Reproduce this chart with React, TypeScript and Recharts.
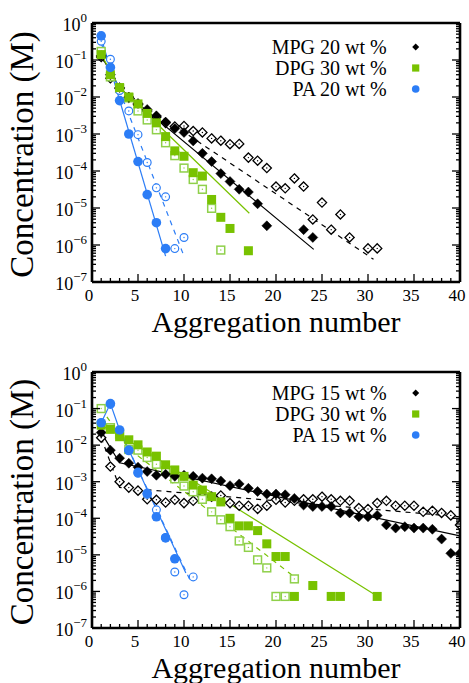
import React from "react";
import { ComposedChart, Scatter, XAxis, YAxis, Legend, Label } from "recharts";

type Pt = [number, number];

const FONT = "'Liberation Serif', 'Times New Roman', serif";
const BLACK = "#000000";
const GREEN = "#78c200";
const GREEN_OPEN = "#8fd04a";
const BLUE = "#2c7df6";

// axis ticks
const xTicks = Array.from({ length: 41 }, (_, i) => i);
const decades = [-7, -6, -5, -4, -3, -2, -1];
const yTicks = [...decades.flatMap((e) => [1, 2, 3, 4, 5, 6, 7, 8, 9].map((k) => k * Math.pow(10, e))), 1];

// ---------- upper panel (20 wt %) ----------
const topMpgFilled: Pt[] = [
  [1, 0.13], [2, 0.04], [3, 0.018], [4, 0.01], [5, 6.7e-3], [6, 4.6e-3], [7, 3.1e-3],
  [8, 2.1e-3], [9, 1.4e-3], [10, 1.1e-3], [11, 6.5e-4], [12, 3e-4], [13, 1.8e-4],
  [14, 8.5e-5], [15, 5.2e-5], [16, 3.2e-5], [17, 2.7e-5], [18, 1.3e-5], [19, 3.3e-6],
  [23, 2.6e-6], [24, 1.6e-6],
];
const topMpgOpen: Pt[] = [
  [1, 0.12], [2, 0.032], [3, 0.017], [4, 0.0095], [5, 6.2e-3], [6, 4.2e-3], [7, 2.9e-3],
  [8, 2e-3], [9, 1.6e-3], [10, 1.65e-3], [11, 1.2e-3], [12, 1.1e-3], [13, 7.6e-4],
  [14, 6.6e-4], [15, 5.3e-4], [16, 5.4e-4], [17, 2.3e-4], [18, 1.9e-4], [19, 1.2e-4],
  [20, 3.8e-5], [21, 3.4e-5], [22, 6.3e-5], [23, 3.8e-5], [24, 4.9e-6], [25, 1.4e-5],
  [26, 2.6e-6], [27, 6.7e-6], [28, 1.6e-6], [30, 8.1e-7], [31, 8.1e-7],
];
const topDpgFilled: Pt[] = [
  [1, 0.14], [2, 0.04], [3, 0.018], [4, 0.01], [5, 6.5e-3], [6, 3.6e-3], [7, 2e-3],
  [8, 8.5e-4], [9, 3.5e-4], [10, 2.5e-4], [11, 9e-5], [12, 7.3e-5], [13, 1.7e-5],
  [14, 5.6e-6], [15, 2.8e-6], [17, 7e-7],
];
const topDpgOpen: Pt[] = [
  [1, 0.17], [2, 0.035], [3, 0.017], [4, 0.0095], [5, 4.2e-3], [6, 2.4e-3], [7, 1.3e-3],
  [8, 5.8e-4], [9, 2.6e-4], [10, 1.2e-4], [11, 5.9e-5], [12, 3.2e-5], [13, 9.8e-6], [14, 7.3e-7],
];
const topPaFilled: Pt[] = [
  [1, 0.45], [2, 0.063], [3, 0.008], [4, 1e-3], [5, 1.8e-4], [6, 2.3e-5], [7, 4e-6], [8, 8e-7],
];
const topPaOpen: Pt[] = [
  [1, 0.32], [2, 0.105], [3, 0.015], [4, 4.2e-3], [5, 9.6e-4], [6, 1.7e-4], [7, 3.5e-5],
  [8, 2e-5], [9, 8e-7], [10, 1.6e-6],
];
const topMpgFit: Pt[] = [[1, 0.13], [3, 0.0174], [24.1, 7.6e-7]];
const topMpgOpenFit: Pt[] = [[1, 0.12], [3, 0.0166], [30.6, 4.1e-7]];
const topDpgFit: Pt[] = [[1, 0.14], [3, 0.018], [17.1, 7.2e-6]];
const topPaFit: Pt[] = [[0.8, 0.59], [8.0, 5e-7]];
const topPaOpenFit: Pt[] = [[1, 0.28], [10, 5e-7]];
const topLegend = ["MPG 20 wt %", "DPG 30 wt %", "PA 20 wt %"];

// ---------- lower panel (15 wt %) ----------
const botMpgFilled: Pt[] = [
  [1, 0.022], [2, 7.3e-3], [3, 4.4e-3], [4, 3.2e-3], [5, 2.5e-3], [6, 1.9e-3], [7, 1.5e-3],
  [8, 1.6e-3], [9, 1.4e-3], [10, 1.5e-3], [11, 1.4e-3], [12, 1.25e-3], [13, 1.2e-3],
  [14, 1.05e-3], [15, 7.8e-4], [16, 8.7e-4], [17, 6.6e-4], [18, 5.4e-4], [19, 4.6e-4],
  [20, 4.6e-4], [21, 4.4e-4], [22, 3.5e-4], [23, 2.3e-4], [24, 2.1e-4], [25, 2.1e-4],
  [26, 2.1e-4], [27, 1.4e-4], [28, 1.4e-4], [29, 1.1e-4], [30, 1.1e-4], [31, 1.2e-4],
  [32, 6.6e-5], [33, 5.4e-5], [34, 5.9e-5], [35, 5.4e-5], [36, 5.4e-5], [37, 5e-5],
  [38, 2.7e-5], [39, 1.1e-5], [40, 1.1e-5],
];
const botMpgOpen: Pt[] = [
  [1, 0.016], [2, 2.6e-3], [3, 1e-3], [4, 6.9e-4], [5, 5.7e-4], [6, 3.3e-4], [7, 3.2e-4],
  [8, 2.7e-4], [9, 3.2e-4], [10, 2.6e-4], [11, 3e-4], [12, 3.9e-4], [13, 3.9e-4],
  [14, 4.2e-4], [15, 2.6e-4], [16, 2.2e-4], [17, 2.2e-4], [18, 1.8e-4], [19, 2.2e-4],
  [20, 3.2e-4], [21, 2.7e-4], [22, 3e-4], [23, 3.3e-4], [24, 3.3e-4], [25, 3.9e-4],
  [26, 3.3e-4], [27, 3e-4], [28, 3e-4], [29, 1.9e-4], [30, 1.8e-4], [31, 2.6e-4],
  [32, 3e-4], [33, 2.2e-4], [34, 2.2e-4], [35, 2.2e-4], [36, 1.5e-4], [37, 1.6e-4],
  [38, 1.4e-4], [39, 1.2e-4], [40, 6.6e-5],
];
const botDpgFilled: Pt[] = [
  [1, 0.035], [2, 0.027], [3, 0.017], [4, 0.014], [5, 0.0102], [6, 6.5e-3], [7, 5e-3],
  [8, 2.9e-3], [9, 2.1e-3], [10, 1.4e-3], [11, 8.1e-4], [12, 5.9e-4], [13, 3.9e-4],
  [14, 2.8e-4], [15, 1e-4], [16, 6.2e-5], [17, 6.2e-5], [18, 4.6e-5], [19, 2e-5],
  [20, 9e-6], [21, 9e-6], [22, 7.3e-7], [24, 1.45e-6], [26, 7.3e-7], [27, 7.3e-7], [31, 7.3e-7],
];
const botDpgOpen: Pt[] = [
  [1, 0.1], [2, 0.03], [3, 0.02], [4, 7.6e-3], [5, 7.3e-3], [6, 4.6e-3], [7, 3e-3],
  [8, 2e-3], [9, 1.2e-3], [10, 7.6e-4], [11, 5.3e-4], [12, 3.3e-4], [13, 1.5e-4],
  [14, 9.1e-5], [15, 5.9e-5], [16, 2.4e-5], [17, 1.6e-5], [18, 7.3e-6], [19, 4.4e-6],
  [20, 7.3e-7], [21, 7.3e-7], [22, 2.2e-6],
];
const botPaFilled: Pt[] = [
  [1, 0.041], [2, 0.137], [3, 0.026], [4, 7.3e-3], [5, 1.8e-3], [6, 4.8e-4], [7, 1.1e-4],
  [8, 2.9e-5], [9, 7.8e-6],
];
const botPaOpen: Pt[] = [
  [1, 0.04], [2, 0.13], [3, 0.025], [4, 7e-3], [5, 1.7e-3], [6, 4.5e-4], [7, 1.7e-4],
  [8, 3e-5], [9, 3.4e-6], [10, 8.1e-7], [11, 2.5e-6],
];
const botMpgFit: Pt[] = [[1, 0.022], [3, 3.3e-3], [40, 3.3e-5]];
const botMpgOpenFit: Pt[] = [[1, 0.016], [3, 7e-4], [40, 1.1e-4]];
const botDpgFit: Pt[] = [[1, 0.035], [3, 0.019], [30.8, 8e-7]];
const botDpgOpenFit: Pt[] = [[1, 0.1], [4, 8e-3], [22, 2.5e-6]];
const botPaFit: Pt[] = [[1, 0.041], [2, 0.137], [3, 0.026], [10.2, 3.2e-6]];
const botPaOpenFit: Pt[] = [[3, 0.026], [10.8, 1.7e-6]];
const botLegend = ["MPG 15 wt %", "DPG 30 wt %", "PA 15 wt %"];

type Kind = "diamond" | "square" | "circle";
type Series = { data: Pt[]; kind: Kind; open: boolean; color: string };
type Fit = { data: Pt[]; color: string; dashed: boolean };

const toPts = (arr: Pt[]) => arr.map(([x, y]) => ({ x, y }));

function isDecade(v: number) {
  const l = Math.log10(v);
  return Math.abs(l - Math.round(l)) < 1e-6;
}

function Marker({ cx, cy, kind, open, color }: { cx: number; cy: number; kind: Kind; open: boolean; color: string }) {
  if (cx == null || cy == null) return <g />;
  const dot = open ? <circle cx={cx} cy={cy} r={0.7} fill={color} /> : null;
  if (kind === "diamond") {
    const h = open ? 4.6 : 5;
    const d = `M${cx},${cy - h}L${cx + h},${cy}L${cx},${cy + h}L${cx - h},${cy}Z`;
    return (
      <g>
        <path d={d} fill={open ? "#fff" : color} stroke={color} strokeWidth={open ? 1.3 : 0.5} />
        {dot}
      </g>
    );
  }
  if (kind === "square") {
    const h = open ? 3.9 : 4.5;
    return (
      <g>
        <rect x={cx - h} y={cy - h} width={2 * h} height={2 * h} fill={open ? "#fff" : color} stroke={color} strokeWidth={open ? 1.5 : 0} />
        {dot}
      </g>
    );
  }
  return (
    <g>
      <circle cx={cx} cy={cy} r={open ? 3.9 : 4.8} fill={open ? "#fff" : color} stroke={color} strokeWidth={open ? 1.2 : 0} />
      {dot}
    </g>
  );
}

function BottomTick(p: any) {
  const { x, y, payload } = p;
  const v = payload.value;
  const major = v % 5 === 0;
  return (
    <g>
      <line x1={x} y1={y} x2={x} y2={y - (major ? 8 : 4)} stroke={BLACK} strokeWidth={1.3} />
      {major && (
        <text x={x - 3} y={y + 19} textAnchor="middle" fontSize={17} fontFamily={FONT} fill={BLACK}>
          {v}
        </text>
      )}
    </g>
  );
}

function TopTick(p: any) {
  const { x, y, payload } = p;
  const major = payload.value % 5 === 0;
  return <line x1={x} y1={y} x2={x} y2={y + (major ? 8 : 4)} stroke={BLACK} strokeWidth={1.3} />;
}

function LeftTick(p: any) {
  const { x, y, payload } = p;
  const v = payload.value;
  const major = isDecade(v);
  const e = Math.round(Math.log10(v));
  return (
    <g>
      <line x1={x} y1={y} x2={x + (major ? 8 : 4)} y2={y} stroke={BLACK} strokeWidth={1.3} />
      {major && (
        <text x={x - 5} y={y + 8} textAnchor="end" fontSize={18} fontFamily={FONT} fill={BLACK}>
          10
          <tspan dy={-9} fontSize={13}>
            {e === 0 ? "0" : "\u2212" + Math.abs(e)}
          </tspan>
        </text>
      )}
    </g>
  );
}

function RightTick(p: any) {
  const { x, y, payload } = p;
  const major = isDecade(payload.value);
  return <line x1={x} y1={y} x2={x - (major ? 8 : 4)} y2={y} stroke={BLACK} strokeWidth={1.3} />;
}

function LegendBox({ rows }: { rows: string[] }) {
  const kinds: Kind[] = ["diamond", "square", "circle"];
  const colors = [BLACK, GREEN, BLUE];
  return (
    <svg width={240} height={64}>
      {rows.map((r, i) => {
        const cy = 10 + i * 21;
        const cx = 215.7;
        return (
          <g key={r}>
            <text x={186.7} y={cy + 6.5} textAnchor="end" fontSize={20} fontFamily={FONT} fill={BLACK}>
              {r}
            </text>
            {kinds[i] === "diamond" && (
              <path d={`M${cx},${cy - 3.5}L${cx + 3.5},${cy}L${cx},${cy + 3.5}L${cx - 3.5},${cy}Z`} fill={BLACK} />
            )}
            {kinds[i] === "square" && <rect x={cx - 3.6} y={cy - 3.6} width={7.2} height={7.2} fill={colors[i]} />}
            {kinds[i] === "circle" && <circle cx={cx} cy={cy} r={3.8} fill={colors[i]} />}
          </g>
        );
      })}
    </svg>
  );
}

const frame = { stroke: BLACK, strokeWidth: 2.6 };

function Panel({
  height,
  top,
  bottom,
  points,
  fits,
  legend,
  legendTop,
}: {
  height: number;
  top: number;
  bottom: number;
  points: Series[];
  fits: Fit[];
  legend: string[];
  legendTop: number;
}) {
  return (
    <ComposedChart width={469} height={height} margin={{ top: top - 1, right: 8, bottom: 0, left: 0 }}>
      <XAxis
        type="number"
        dataKey="x"
        domain={[0, 40]}
        ticks={xTicks}
        interval={0}
        tickSize={0}
        tickMargin={0}
        height={bottom}
        allowDataOverflow
        axisLine={frame}
        tickLine={false}
        tick={(p: any) => <BottomTick {...p} />}
      >
        <Label
          content={(p: any) => {
            const vb = p.viewBox;
            return (
              <text x={vb.x + vb.width / 2} y={vb.y + 50} textAnchor="middle" fontSize={30} fontFamily={FONT} fill={BLACK}>
                Aggregation number
              </text>
            );
          }}
        />
      </XAxis>
      <XAxis
        xAxisId="top"
        orientation="top"
        type="number"
        domain={[0, 40]}
        ticks={xTicks}
        interval={0}
        tickSize={0}
        tickMargin={0}
        height={1}
        allowDataOverflow
        axisLine={frame}
        tickLine={false}
        tick={(p: any) => <TopTick {...p} />}
      />
      <YAxis
        type="number"
        dataKey="y"
        scale="log"
        domain={[1e-7, 1]}
        ticks={yTicks}
        interval={0}
        tickSize={0}
        tickMargin={0}
        width={92}
        allowDataOverflow
        axisLine={frame}
        tickLine={false}
        tick={(p: any) => <LeftTick {...p} />}
      >
        <Label
          content={(p: any) => {
            const vb = p.viewBox;
            const cx = 22;
            const cy = vb.y + vb.height / 2 + 2;
            return (
              <text
                x={cx}
                y={cy}
                transform={`rotate(-90 ${cx} ${cy})`}
                textAnchor="middle"
                dominantBaseline="central"
                fontSize={33}
                fontFamily={FONT}
                fill={BLACK}
              >
                Concentration (M)
              </text>
            );
          }}
        />
      </YAxis>
      <YAxis
        yAxisId="right"
        orientation="right"
        type="number"
        scale="log"
        domain={[1e-7, 1]}
        ticks={yTicks}
        interval={0}
        tickSize={0}
        tickMargin={0}
        width={1}
        allowDataOverflow
        axisLine={frame}
        tickLine={false}
        tick={(p: any) => <RightTick {...p} />}
      />
      {fits.map((f, i) => (
        <Scatter
          key={"fit" + i}
          data={toPts(f.data)}
          line={{ stroke: f.color, strokeWidth: 1.2, strokeDasharray: f.dashed ? "5 5" : undefined }}
          lineType="joint"
          shape={() => <g />}
          legendType="none"
          isAnimationActive={false}
        />
      ))}
      {points.map((s, i) => (
        <Scatter
          key={"pts" + i}
          data={toPts(s.data)}
          fill={s.color}
          legendType="none"
          isAnimationActive={false}
          shape={(p: any) => <Marker cx={p.cx} cy={p.cy} kind={s.kind} open={s.open} color={s.color} />}
        />
      ))}
      <Legend
        layout="vertical"
        align="center"
        verticalAlign="middle"
        wrapperStyle={{ position: "absolute", top: legendTop, left: 200, width: 240, height: 64 }}
        content={() => <LegendBox rows={legend} />}
      />
    </ComposedChart>
  );
}

export default function App() {
  const topPoints: Series[] = [
    { data: topMpgOpen, kind: "diamond", open: true, color: BLACK },
    { data: topDpgOpen, kind: "square", open: true, color: GREEN_OPEN },
    { data: topPaOpen, kind: "circle", open: true, color: BLUE },
    { data: topMpgFilled, kind: "diamond", open: false, color: BLACK },
    { data: topDpgFilled, kind: "square", open: false, color: GREEN },
    { data: topPaFilled, kind: "circle", open: false, color: BLUE },
  ];
  const topFits: Fit[] = [
    { data: topMpgFit, color: BLACK, dashed: false },
    { data: topMpgOpenFit, color: BLACK, dashed: true },
    { data: topDpgFit, color: GREEN, dashed: false },
    { data: topPaFit, color: BLUE, dashed: false },
    { data: topPaOpenFit, color: BLUE, dashed: true },
  ];
  const botPoints: Series[] = [
    { data: botMpgOpen, kind: "diamond", open: true, color: BLACK },
    { data: botDpgOpen, kind: "square", open: true, color: GREEN_OPEN },
    { data: botPaOpen, kind: "circle", open: true, color: BLUE },
    { data: botMpgFilled, kind: "diamond", open: false, color: BLACK },
    { data: botDpgFilled, kind: "square", open: false, color: GREEN },
    { data: botPaFilled, kind: "circle", open: false, color: BLUE },
  ];
  const botFits: Fit[] = [
    { data: botMpgFit, color: BLACK, dashed: false },
    { data: botMpgOpenFit, color: BLACK, dashed: true },
    { data: botDpgFit, color: GREEN, dashed: false },
    { data: botDpgOpenFit, color: GREEN, dashed: true },
    { data: botPaFit, color: BLUE, dashed: false },
    { data: botPaOpenFit, color: BLUE, dashed: true },
  ];

  return (
    <div style={{ position: "absolute", left: 0, top: 0, width: 469, height: 683, background: "#fff", fontFamily: FONT }}>
      <div style={{ position: "absolute", left: 0, top: 0 }}>
        <Panel height={340} top={23} bottom={58} points={topPoints} fits={topFits} legend={topLegend} legendTop={37.3} />
      </div>
      <div style={{ position: "absolute", left: 0, top: 340 }}>
        <Panel height={343} top={32} bottom={55} points={botPoints} fits={botFits} legend={botLegend} legendTop={43.3} />
      </div>
    </div>
  );
}
